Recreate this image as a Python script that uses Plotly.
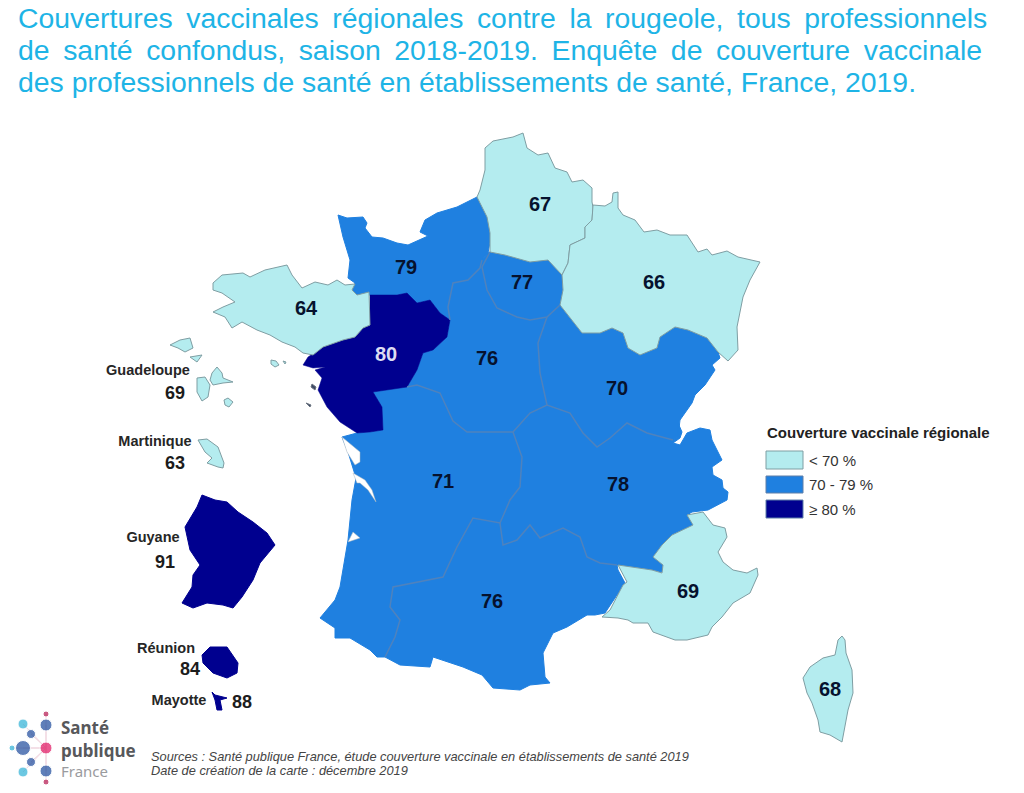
# %% Import Libraries
import plotly.graph_objects as go

# %% Data read from the map
region_names = ['Hauts-de-France', 'Grand Est', 'Normandie', 'Ile-de-France', 'Bretagne',
                'Pays de la Loire', 'Centre-Val de Loire', 'Bourgogne-Franche-Comte',
                'Nouvelle-Aquitaine', 'Auvergne-Rhone-Alpes', 'Occitanie', 'PACA', 'Corse']
region_values = [67, 66, 79, 77, 64, 80, 76, 70, 71, 78, 76, 69, 68]

overseas_names = ['Guadeloupe', 'Martinique', 'Guyane', 'Réunion', 'Mayotte']
overseas_values = [69, 63, 91, 84, 88]

legend_labels = ['< 70 %', '70 - 79 %', '≥ 80 %']
legend_values = [60, 75, 85]

title_lines = [
    'Couvertures\u2009 vaccinales\u2009 régionales\u2009 contre\u2009 la\u2009 rougeole,\u2009 tous\u2009 professionnels',
    'de\u2009 santé\u2009 confondus,\u2009 saison\u2009 2018-2019.\u2009 Enquête\u2009 de\u2009 couverture\u2009 vaccinale',
    'des professionnels de santé en établissements de santé, France, 2019.',
]
source_lines = [
    'Sources : Santé publique France, étude couverture vaccinale en établissements de santé 2019',
    'Date de création de la carte : décembre 2019',
]

# %% Outlines, in picture coordinates
outlines = {
    'Hauts-de-France': [(485,148),(493,141),(513,137),(523,133),(527,148),(538,155),(548,153),(555,168),(567,172),(572,182),(583,180),(592,188),(592,202),(593,207),(592,220),(585,227),(585,238),(570,245),(568,263),(562,275),(548,260),(530,262),(505,255),(490,252),(490,233),(487,217),(477,197),(480,190),(485,170)],
    'Grand Est': [(593,205),(605,206),(612,202),(613,193),(618,192),(618,208),(623,215),(635,220),(644,232),(657,230),(670,235),(687,235),(698,252),(707,249),(712,255),(727,251),(738,257),(760,262),(750,280),(743,297),(737,327),(738,350),(728,361),(718,352),(707,338),(688,330),(675,327),(660,337),(657,348),(640,355),(628,348),(623,333),(612,328),(600,333),(582,333),(570,318),(560,305),(563,290),(562,275),(568,263),(570,245),(585,238),(585,227),(592,220)],
    'Normandie': [(338,215),(347,218),(363,217),(367,223),(365,228),(372,237),(383,238),(397,243),(408,245),(420,240),(428,236),(420,232),(425,220),(437,213),(457,207),(477,197),(485,203),(490,217),(491,237),(488,253),(482,260),(480,268),(468,280),(453,283),(448,307),(450,320),(440,313),(430,300),(417,303),(407,293),(397,295),(370,295),(357,295),(352,290),(355,283),(348,278),(350,260),(343,237),(340,223)],
    'Ile-de-France': [(490,252),(505,255),(530,262),(548,260),(562,275),(563,290),(560,305),(547,317),(530,320),(517,317),(497,308),(487,290),(482,267),(482,260),(488,253)],
    'Bretagne': [(213,283),(222,275),(243,273),(250,277),(265,270),(277,267),(287,265),(292,275),(302,288),(315,282),(328,285),(337,280),(345,285),(355,284),(352,290),(357,295),(369,292),(370,325),(363,328),(355,337),(343,340),(323,347),(313,355),(303,353),(295,347),(282,342),(270,335),(257,330),(242,322),(232,328),(225,317),(213,312),(223,307),(235,302),(222,293),(213,290)],
    'Pays de la Loire': [(370,295),(397,295),(407,293),(417,303),(430,300),(440,313),(450,320),(447,337),(433,350),(423,353),(417,370),(407,387),(373,392),(382,407),(383,430),(370,432),(357,433),(340,422),(327,407),(318,390),(322,378),(315,370),(325,367),(313,368),(303,365),(308,357),(323,347),(343,340),(355,337),(363,328),(370,325)],
    'Centre-Val de Loire': [(453,283),(468,280),(482,262),(487,290),(497,308),(517,317),(530,320),(547,317),(538,343),(540,373),(547,405),(530,413),(513,432),(497,432),(467,432),(453,421),(440,393),(417,385),(407,387),(417,370),(423,353),(433,350),(447,337),(450,320),(448,307)],
    'Bourgogne-Franche-Comte': [(547,317),(560,305),(570,318),(582,333),(600,333),(612,328),(623,333),(628,348),(640,355),(657,348),(660,337),(675,327),(688,330),(707,338),(718,352),(720,358),(712,365),(715,370),(705,385),(695,395),(692,403),(680,420),(678,437),(673,440),(647,433),(627,423),(610,438),(597,447),(583,433),(570,413),(547,405),(540,373),(538,343)],
    'Nouvelle-Aquitaine': [(373,392),(407,387),(417,385),(440,393),(453,421),(467,432),(513,432),(522,457),(520,487),(510,500),(500,523),(473,518),(457,547),(443,577),(393,587),(390,607),(400,620),(395,637),(385,657),(377,657),(370,650),(350,638),(335,638),(335,628),(320,618),(335,600),(340,587),(348,540),(352,500),(356,478),(352,465),(348,452),(342,437),(357,433),(370,432),(383,430),(382,407)],
    'Auvergne-Rhone-Alpes': [(513,432),(530,413),(547,405),(570,413),(583,433),(597,447),(610,438),(627,423),(647,433),(673,440),(678,437),(678,423),(682,432),(680,438),(673,443),(680,445),(687,433),(700,428),(710,430),(712,440),(718,452),(722,460),(712,467),(713,475),(722,480),(723,488),(728,492),(727,500),(708,510),(692,512),(687,515),(693,525),(672,535),(662,545),(653,557),(663,565),(662,572),(652,570),(633,567),(617,565),(600,563),(587,557),(580,537),(563,528),(540,538),(530,525),(517,540),(503,545),(500,523),(510,500),(520,487),(522,457)],
    'Occitanie': [(500,523),(473,518),(457,547),(443,577),(393,587),(390,607),(400,620),(395,637),(385,657),(400,665),(430,667),(433,657),(463,667),(482,675),(493,688),(520,690),(530,685),(550,683),(545,677),(543,653),(553,633),(567,627),(587,615),(595,615),(605,613),(625,583),(618,570),(617,565),(600,563),(587,557),(580,537),(563,528),(540,538),(530,525),(517,540),(503,545)],
    'PACA': [(602,617),(610,610),(623,585),(627,582),(618,565),(633,567),(652,570),(662,573),(663,565),(653,557),(662,545),(672,535),(693,525),(687,515),(703,512),(713,525),(725,528),(727,537),(718,552),(723,562),(733,570),(747,573),(757,568),(758,575),(750,593),(733,603),(722,617),(712,627),(708,635),(687,640),(675,640),(653,632),(648,623),(633,623),(628,620),(618,618)],
    'Corse': [(838,640),(842,636),(845,640),(846,653),(852,670),(853,693),(848,710),(843,738),(842,742),(830,735),(820,732),(818,720),(812,703),(807,693),(803,678),(810,667),(823,658),(835,655)],
}
overseas_outlines = {
    'Guadeloupe': [
        [(212,373),(217,367),(222,373),(223,378),(233,382),(223,383),(213,385),(210,380)],
        [(197,378),(205,377),(210,385),(208,397),(202,401),(197,392)],
        [(224,400),(228,398),(233,402),(229,407),(225,405)],
        [(170,345),(180,340),(190,338),(193,348),(185,352),(178,348)],
        [(190,357),(202,355),(197,362)],
    ],
    'Martinique': [[(198,440),(207,439),(218,447),(222,457),(224,463),(223,468),(218,467),(207,463),(212,458),(205,452)]],
    'Guyane': [[(202,495),(215,500),(227,502),(238,512),(253,522),(267,533),(275,545),(260,563),(253,580),(242,597),(233,608),(223,605),(207,603),(193,608),(182,603),(192,587),(193,575),(200,565),(190,550),(185,527),(197,507)]],
    'Réunion': [[(202,655),(210,647),(227,647),(238,663),(237,673),(227,678),(213,673),(203,663)]],
    'Mayotte': [[(212,692),(215,695),(227,698),(220,700),(222,710),(217,710),(215,700)]],
}
# water cut out of the coast, and the small Atlantic islands
estuaries = [
    [(353,473),(365,480),(372,490),(376,502),(368,490),(360,483),(357,483)],
    [(348,542),(353,532),(360,538)],
    [(342,437),(360,452),(360,462),(355,465),(347,452)],
]
islands_brittany = [[(271,360),(276,361),(279,365),(275,367),(271,364)], [(283,361),(286,362),(285,364)]]
islands_loire = [[(312,384),(316,387),(315,390),(311,387)], [(306,403),(311,405),(310,407)]]
# shared borders between the mid blue regions
inner_borders = [
    [(482,260),(480,268),(468,280),(453,283),(448,307),(450,320)],
    [(490,252),(482,267),(487,290),(497,308),(517,317),(530,320),(547,317),(560,305)],
    [(547,317),(538,343),(540,373),(547,405)],
    [(407,387),(417,385),(440,393),(453,421),(467,432),(513,432),(530,413),(547,405),(570,413),(583,433),(597,447),(610,438),(627,423),(647,433),(673,440)],
    [(513,432),(522,457),(520,487),(510,500),(500,523),(473,518),(457,547),(443,577),(393,587),(390,607),(400,620),(395,637),(385,657)],
    [(500,523),(503,545),(517,540),(530,525),(540,538),(563,528),(580,537),(587,557),(600,563),(617,565)],
]

# label anchors
region_label_xy = [(540,206),(654,284),(406,269),(522,284),(306,310),(386,356),(487,360),(617,390),(443,483),(618,486),(492,603),(688,593),(830,691)]
overseas_name_xy = [(148,371),(155,442),(153,538),(166,649),(179,701)]
overseas_value_xy = [(175,394),(175,464),(165,563),(190,670),(242,703)]
legend_y = [(451,469),(476,493),(500,518)]
logo_x = [46,23,46,31,23,12,46,31,23,46,46]
logo_y = [714,724,725,734,748,748,748,762,772,771,782]
logo_color = ['#b5174f','#2eb1d6','#1c4a9c','#1c4a9c','#1c4a9c','#2eb1d6','#e01460','#1c4a9c','#2eb1d6','#1c4a9c','#b5174f']
logo_size = [6,10,12,9,15,6,12,9,10,12,6]

LIGHT, MID, DARK = '#b4ecef', '#1f80e0', '#00008f'
FONT = 'Liberation Sans'


def class_color(v):
    if v < 70:
        return LIGHT
    return MID if v < 80 else DARK


def add_poly(fig, pts, fill, line=None, width=1):
    fig.add_trace(go.Scatter(x=[p[0] for p in pts] + [pts[0][0]], y=[p[1] for p in pts] + [pts[0][1]],
                             mode='lines', fill='toself', fillcolor=fill,
                             line=dict(color=line or fill, width=width),
                             hoverinfo='skip', showlegend=False))


# %% Build the map
fig = go.Figure()

for name, v in zip(region_names, region_values):
    if class_color(v) == MID:
        add_poly(fig, outlines[name], MID, width=1)
for name, v in zip(region_names, region_values):
    if class_color(v) == DARK:
        add_poly(fig, outlines[name], DARK, width=0.5)
for name, v in zip(region_names, region_values):
    if class_color(v) == LIGHT:
        add_poly(fig, outlines[name], LIGHT, line='#7f9ea3')

for name, v in zip(overseas_names, overseas_values):
    c = class_color(v)
    for pts in overseas_outlines[name]:
        add_poly(fig, pts, c, line='#7f9ea3' if c == LIGHT else c)

for pts in estuaries:
    add_poly(fig, pts, 'white', line='#a8b4bd', width=0.5)
for pts in islands_brittany:
    add_poly(fig, pts, LIGHT, line='#7f9ea3')
for pts in islands_loire:
    add_poly(fig, pts, '#3d4a66', line='#6b7480')

for pts in inner_borders:
    fig.add_trace(go.Scatter(x=[p[0] for p in pts], y=[p[1] for p in pts], mode='lines',
                             line=dict(color='#4f82bd', width=1.5),
                             hoverinfo='skip', showlegend=False))

# value labels
fig.add_trace(go.Scatter(x=[p[0] for p in region_label_xy], y=[p[1] for p in region_label_xy], mode='text',
                         text=[str(v) for v in region_values],
                         textfont=dict(family=FONT, size=20, weight='bold',
                                       color=['#dcdcf2' if v >= 80 else '#06122e' for v in region_values]),
                         hoverinfo='skip', showlegend=False))
fig.add_trace(go.Scatter(x=[p[0] for p in overseas_value_xy], y=[p[1] for p in overseas_value_xy], mode='text',
                         text=[str(v) for v in overseas_values],
                         textfont=dict(family=FONT, size=18, weight='bold', color='#1c1c1c'),
                         hoverinfo='skip', showlegend=False))
fig.add_trace(go.Scatter(x=[p[0] for p in overseas_name_xy], y=[p[1] for p in overseas_name_xy], mode='text',
                         text=overseas_names,
                         textfont=dict(family=FONT, size=14.5, weight='bold', color='#262626'),
                         hoverinfo='skip', showlegend=False))

# legend
for (y0, y1), label, v in zip(legend_y, legend_labels, legend_values):
    fig.add_shape(type='rect', x0=766, x1=803, y0=y0, y1=y1, fillcolor=class_color(v),
                  line=dict(color='#7f9ea3' if v < 70 else '#5f7fa8', width=1))
    fig.add_annotation(x=807, y=(y0 + y1) / 2, text=label, showarrow=False, xanchor='left',
                       font=dict(family=FONT, size=15, color='#333333'))
fig.add_annotation(x=765, y=432, text='<b>Couverture vaccinale régionale</b>', showarrow=False, xanchor='left',
                   font=dict(family=FONT, size=15, color='#222222'))

# title and sources
for line, y in zip(title_lines, [18, 50, 82]):
    fig.add_annotation(x=16, y=y, text=line, showarrow=False, xanchor='left',
                       font=dict(family=FONT, size=28.4, color='#1eb4e6'))
for line, y in zip(source_lines, [756, 770]):
    fig.add_annotation(x=149, y=y, text='<i>' + line + '</i>', showarrow=False, xanchor='left',
                       font=dict(family=FONT, size=12.8, color='#444444'))

# logo
for x, y in zip(logo_x, logo_y):
    fig.add_shape(type='line', x0=46, y0=748, x1=x, y1=y, line=dict(color='#f0d5de', width=1), layer='below')
fig.add_trace(go.Scatter(x=logo_x, y=logo_y, mode='markers',
                         marker=dict(color=logo_color, size=logo_size),
                         hoverinfo='skip', showlegend=False))
fig.add_annotation(x=59, y=727, text='Santé', showarrow=False, xanchor='left',
                   font=dict(family='Noto Sans', size=17, weight='bold', color='#57585b'))
fig.add_annotation(x=59, y=750, text='publique', showarrow=False, xanchor='left',
                   font=dict(family='Noto Sans', size=17, weight='bold', color='#57585b'))
fig.add_annotation(x=59, y=771, text='France', showarrow=False, xanchor='left',
                   font=dict(family='Noto Sans', size=15, color='#9a9b9e'))

fig.update_xaxes(range=[0, 1024], visible=False, fixedrange=True)
fig.update_yaxes(range=[793, 0], visible=False, fixedrange=True)
fig.update_layout(width=1024, height=793, margin=dict(l=0, r=0, t=0, b=0),
                  plot_bgcolor='white', paper_bgcolor='white', showlegend=False)

fig.write_html("out.html", config={'displayModeBar': False},
               post_script="document.body.style.margin='0';document.body.style.overflow='hidden';")
